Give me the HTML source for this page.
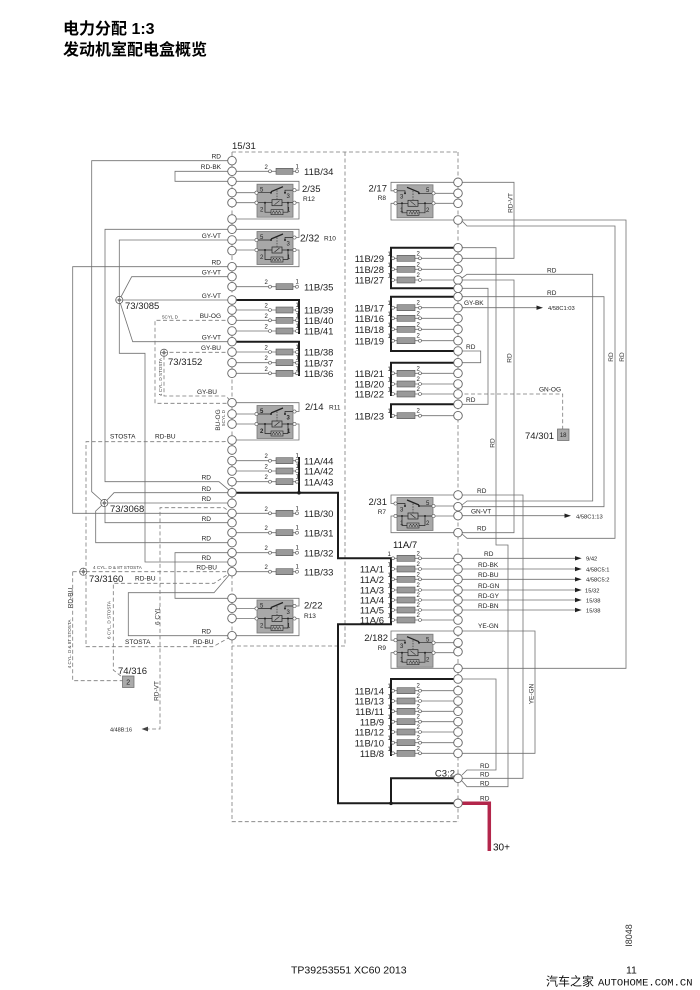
<!DOCTYPE html>
<html><head><meta charset="utf-8"><style>
html,body{margin:0;padding:0;background:#fff}
svg{display:block}
text{font-family:"Liberation Sans","Noto Sans CJK SC",sans-serif;fill:#222}
.t{stroke:#707070;stroke-width:.8;fill:none}
.d{stroke:#7a7a7a;stroke-width:.8;fill:none;stroke-dasharray:4 2.5}
.k{stroke:#1c1c1c;stroke-width:2;fill:none}
.n{fill:#fff;stroke:#666;stroke-width:.9}
.p{fill:#fff;stroke:#555;stroke-width:.6}
.f{fill:#9a9a9a;stroke:#555;stroke-width:.6}
.w{font-size:6.5px;fill:#333}
.l{font-size:9.5px;fill:#111}
.s{font-size:6px;fill:#222}
.x{font-size:4.6px;fill:#444}
</style></head><body>
<svg width="700" height="990" viewBox="0 0 700 990" xmlns="http://www.w3.org/2000/svg">
<defs>
<g id="lf"><path class="t" d="M236 0H268.5M271.5 0H276M293 0H295.5"/><circle cx="270" cy="0" r="1.5" class="p"/><rect x="276" y="-3" width="17" height="6" class="f"/><circle cx="297" cy="0" r="1.5" class="p"/></g>
<g id="rf"><path class="t" d="M394.5 0H397M415 0H418.5M421.5 0H454"/><circle cx="393" cy="0" r="1.5" class="p"/><rect x="397" y="-3" width="18" height="6" class="f"/><circle cx="420" cy="0" r="1.5" class="p"/></g>
<g id="ry">
<rect x="0" y="0" width="36" height="33" fill="#a8a8a8" stroke="#777" stroke-width=".8"/>
<path d="M0 8.5H14M28 8.5V6H36M0 18.5H15M25 18.5H36M8 18.5V28H14M26 28H31V18.5" stroke="#222" stroke-width=".7" fill="none"/>
<path d="M14 7.5L26 2.5" stroke="#222" stroke-width="1.3"/>
<path d="M20 6V15" stroke="#222" stroke-width=".6" stroke-dasharray="1.5 1.2"/>
<rect x="15" y="15.5" width="10" height="6" fill="none" stroke="#222" stroke-width=".7"/>
<path d="M17.5 20.5L22.5 16.5" stroke="#222" stroke-width=".6"/>
<rect x="14" y="25.5" width="12" height="5" fill="none" stroke="#222" stroke-width=".6"/>
<path d="M15 29.5L16.5 26.5L18 29.5L19.5 26.5L21 29.5L22.5 26.5L24 29.5" stroke="#222" stroke-width=".5" fill="none"/>
<circle cx="14" cy="8.5" r="1" fill="#222"/><circle cx="28" cy="8.5" r="1" fill="#222"/>
<circle cx="8" cy="18.5" r="1" fill="#222"/><circle cx="31" cy="18.5" r="1" fill="#222"/>
<circle cx="-.5" cy="8.5" r="1.6" class="p"/><circle cx="-.5" cy="18.5" r="1.6" class="p"/>
<circle cx="37.5" cy="6" r="1.6" class="p"/><circle cx="37.5" cy="18.5" r="1.6" class="p"/>
</g>
<g id="sp"><circle r="3.6" fill="#fff" stroke="#555" stroke-width=".7"/><circle r="1.2" fill="none" stroke="#555" stroke-width=".6"/><path d="M-3.6 0H3.6M0 -3.6V3.6" stroke="#555" stroke-width=".5"/></g>
</defs>

<!-- Title -->
<text x="63" y="34" style="font-size:16px;font-weight:bold;fill:#000">电力分配 1:3</text>
<text x="63" y="55" style="font-size:16px;font-weight:bold;fill:#000">发动机室配电盒概览</text>

<!-- dashed frame -->
<path class="d" d="M232 152H458M232 152V821.7H458M458 152V821.7M345 152V646H232"/>
<text x="232" y="149" style="font-size:9.5px">15/31</text>

<!-- LEFT thin lines -->
<path class="t" d="M232 160.7H91.7V491.7L104.3 503"/>
<path class="t" d="M232 171.3H175V181.3H232"/>
<path class="t" d="M232 181.3H299V190.2H296"/>
<path class="t" d="M236 192.7H255M236 202.7H255"/>
<path class="t" d="M296 202.7H299V219H232"/>
<path class="t" d="M232 229.3H105V481.7H219L232 492.7"/>
<path class="t" d="M232 229.3H299V237.5H296"/>
<path class="t" d="M236 240H255M236 250H255"/>
<path class="t" d="M232 240H119.3V353.3H145V562H232"/>
<path class="t" d="M296 250H299V266.7H232"/>
<path class="t" d="M232 266.7H72.7V513.3H232"/>
<path class="t" d="M232 276.7H131.7L119.3 300H232M119.3 300L132.7 341.7H232"/>
<path class="t" d="M232 402.7H299V411.5H296"/>
<path class="t" d="M236 414H255M236 424H255"/>
<path class="t" d="M296 424H299V440H232"/>
<path class="t" d="M104.3 503L114 492.7H232M104.3 503H232M105 503V522.7H232M104.3 503L95.7 511V542.7H232"/>
<path class="t" d="M232 552.7H175V598.3H232"/>
<path class="t" d="M232 571.7L214 592.7H128.3V635.7H232"/>
<path class="t" d="M232 598.3H299V606H296"/>
<path class="t" d="M236 608.5H255M236 618.5H255"/>
<path class="t" d="M296 618.5H299V635.7H232"/>

<!-- LEFT dashed -->
<path class="d" d="M232 320.3H155V403.3H232"/>
<path class="d" d="M232 352.3H164V396H226L232 402.7"/>
<path class="d" d="M232 440L224 441.7H86V646.7H213L232 636"/>
<path class="d" d="M232 513.3L224 507.7H160V729H147"/>
<path class="d" d="M72.7 571.7H232M72.7 571.7V680.7H122.7"/>
<path class="d" d="M232 571.7L214 583.3H113.3V670L122 677"/>
<path class="d" d="M458 394H562.7V429"/>
<polygon points="148,726.6 141.5,729 148,731.4" fill="#444"/>

<!-- RIGHT thin lines -->
<path class="t" d="M458 182.3H391V190.8H394"/>
<path class="t" d="M458 182.3H514V258.3H458"/>
<path class="t" d="M435 193.3H454M435 203.3H454"/>
<path class="t" d="M394 203.3H391V220H458"/>
<path class="t" d="M458 220H626V668.3H458"/>
<path class="t" d="M462 221L467 226H615V538.3H467L462 534"/>
<path class="t" d="M458 247.7H496V545H508V786.7H467L462 781"/>
<path class="t" d="M462 278L467 274.3H592.7V501H467L462 505"/>
<path class="t" d="M458 280H514V532.7H458"/>
<path class="t" d="M458 288.3H488V404.3H458"/>
<path class="t" d="M458 296.7H604V506.7H458"/>
<path class="t" d="M458 307.7H537"/>
<polygon points="536.5,305.5 543,307.7 536.5,309.9" fill="#222"/>
<path class="t" d="M458 351H480.7V362.7H458"/>
<path class="t" d="M458 495H391V503.5H394"/>
<path class="t" d="M458 495H523V778.3H458"/>
<path class="t" d="M435 506H454M435 516H454"/>
<path class="t" d="M458 515.7H565"/>
<polygon points="564.5,513.5 571,515.7 564.5,517.9" fill="#222"/>
<path class="t" d="M394 516H391V532.7H458"/>
<path class="t" d="M462 558.3H576M462 569H576M462 579.3H576M462 590H576M462 600H576M462 610H576"/>
<polygon points="575,556.1 581.7,558.3 575,560.5" fill="#222"/>
<polygon points="575,566.8 581.7,569 575,571.2" fill="#222"/>
<polygon points="575,577.1 581.7,579.3 575,581.5" fill="#222"/>
<polygon points="575,587.8 581.7,590 575,592.2" fill="#222"/>
<polygon points="575,597.8 581.7,600 575,602.2" fill="#222"/>
<polygon points="575,607.8 581.7,610 575,612.2" fill="#222"/>
<path class="t" d="M458 631H391V640.2H394"/>
<path class="t" d="M458 631H535V753.3H458"/>
<path class="t" d="M435 642.7H454M435 652.7H454"/>
<path class="t" d="M394 652.7H391V668.3H458"/>
<path class="t" d="M458 679H496V770H467L462 775"/>

<!-- THICK -->
<path class="k" d="M232 300H299V334"/>
<path class="k" d="M232 341.7H299V376"/>
<path class="k" d="M299 457V492.7"/>
<path class="k" d="M232 492.7H338V558.3H391V624.3H338V803.3H454"/>
<path class="k" d="M391 803.3V778.3H454"/>
<path class="k" d="M454 247.7H391V288.3H454"/>
<path class="k" d="M454 296.7H391V351H454"/>
<path class="k" d="M454 362.7H391V396"/>
<path class="k" d="M454 404.3H391V418"/>
<path class="k" d="M454 679H391V756"/>
<circle cx="299" cy="492.7" r="1.8" fill="#1c1c1c"/>
<circle cx="391" cy="803.3" r="1.8" fill="#1c1c1c"/>
<path d="M462 803.3H489.3V851" stroke="#b3264b" stroke-width="3.5" fill="none"/>

<!-- LEFT fuses -->
<use href="#lf" y="171.3"/><use href="#lf" y="286.7"/><use href="#lf" y="310"/><use href="#lf" y="320.3"/><use href="#lf" y="331"/><use href="#lf" y="352"/><use href="#lf" y="362.7"/><use href="#lf" y="373.3"/><use href="#lf" y="460.7"/><use href="#lf" y="471"/><use href="#lf" y="481.7"/><use href="#lf" y="513.3"/><use href="#lf" y="532.7"/><use href="#lf" y="552.7"/><use href="#lf" y="571.7"/>
<!-- RIGHT fuses -->
<use href="#rf" y="258.3"/><use href="#rf" y="269.3"/><use href="#rf" y="280"/><use href="#rf" y="307.7"/><use href="#rf" y="318.3"/><use href="#rf" y="329.3"/><use href="#rf" y="340.7"/><use href="#rf" y="373.3"/><use href="#rf" y="384"/><use href="#rf" y="394"/><use href="#rf" y="415.7"/><use href="#rf" y="558.3"/><use href="#rf" y="569"/><use href="#rf" y="579.3"/><use href="#rf" y="590"/><use href="#rf" y="600"/><use href="#rf" y="610"/><use href="#rf" y="620"/><use href="#rf" y="690.7"/><use href="#rf" y="701"/><use href="#rf" y="711.3"/><use href="#rf" y="721.7"/><use href="#rf" y="732"/><use href="#rf" y="742.7"/><use href="#rf" y="753.3"/>

<!-- Relays -->
<use href="#ry" transform="translate(257,184.2)"/>
<use href="#ry" transform="translate(257,231.5)"/>
<use href="#ry" transform="translate(257,405.5)"/>
<use href="#ry" transform="translate(257,600)"/>
<use href="#ry" transform="translate(433,184.8) scale(-1,1)"/>
<use href="#ry" transform="translate(433,497.5) scale(-1,1)"/>
<use href="#ry" transform="translate(433,634.2) scale(-1,1)"/>

<!-- relay pin numbers -->
<g class="s">
<text x="260" y="191.5">5</text><text x="286.5" y="198">3</text><text x="260" y="211.5">2</text><text x="287" y="211.5">1</text>
<text x="260" y="238.8">5</text><text x="286.5" y="245.3">3</text><text x="260" y="258.8">2</text><text x="287" y="258.8">1</text>
<text x="260" y="412.8" style="font-weight:bold">5</text><text x="286.5" y="419.3" style="font-weight:bold">3</text><text x="260" y="432.8" style="font-weight:bold">2</text><text x="287" y="432.8" style="font-weight:bold">1</text>
<text x="260" y="607.3">5</text><text x="286.5" y="613.8">3</text><text x="260" y="627.3">2</text><text x="287" y="627.3">1</text>
<text x="400" y="198.6">3</text><text x="426" y="192.1">5</text><text x="400" y="212.1">1</text><text x="426" y="212.1">2</text>
<text x="400" y="511.3">3</text><text x="426" y="504.8">5</text><text x="400" y="524.8">1</text><text x="426" y="524.8">2</text>
<text x="400" y="648">3</text><text x="426" y="641.5">5</text><text x="400" y="661.5">1</text><text x="426" y="661.5">2</text>
</g>

<!-- fuse pin numbers left -->
<g class="s">
<text x="264.5" y="168.8">2</text><text x="295.5" y="168.3">1</text>
<text x="264.5" y="284.2">2</text><text x="295.5" y="283.7">1</text>
<text x="264.5" y="307.5">2</text><text x="295.5" y="307">1</text>
<text x="264.5" y="317.8">2</text><text x="295.5" y="317.3">1</text>
<text x="264.5" y="328.5">2</text><text x="295.5" y="328">1</text>
<text x="264.5" y="349.5">2</text><text x="295.5" y="349">1</text>
<text x="264.5" y="360.2">2</text><text x="295.5" y="359.7">1</text>
<text x="264.5" y="370.8">2</text><text x="295.5" y="370.3">1</text>
<text x="264.5" y="458.2">2</text><text x="295.5" y="457.7">1</text>
<text x="264.5" y="468.5">2</text><text x="295.5" y="468">1</text>
<text x="264.5" y="479.2">2</text><text x="295.5" y="478.7">1</text>
<text x="264.5" y="510.8">2</text><text x="295.5" y="510.3">1</text>
<text x="264.5" y="530.2">2</text><text x="295.5" y="529.7">1</text>
<text x="264.5" y="550.2">2</text><text x="295.5" y="549.7">1</text>
<text x="264.5" y="569.2">2</text><text x="295.5" y="568.7">1</text>
</g>
<!-- fuse pin numbers right -->
<g class="s">
<text x="387.5" y="255.8">1</text><text x="416.5" y="255.3">2</text>
<text x="387.5" y="266.8">1</text><text x="416.5" y="266.3">2</text>
<text x="387.5" y="277.5">1</text><text x="416.5" y="277">2</text>
<text x="387.5" y="305.2">1</text><text x="416.5" y="304.7">2</text>
<text x="387.5" y="315.8">1</text><text x="416.5" y="315.3">2</text>
<text x="387.5" y="326.8">1</text><text x="416.5" y="326.3">2</text>
<text x="387.5" y="338.2">1</text><text x="416.5" y="337.7">2</text>
<text x="387.5" y="370.8">1</text><text x="416.5" y="370.3">2</text>
<text x="387.5" y="381.5">1</text><text x="416.5" y="381">2</text>
<text x="387.5" y="391.5">1</text><text x="416.5" y="391">2</text>
<text x="387.5" y="413.2">1</text><text x="416.5" y="412.7">2</text>
<text x="387.5" y="555.8">1</text><text x="416.5" y="555.3">2</text>
<text x="387.5" y="566.5">1</text><text x="416.5" y="566">2</text>
<text x="387.5" y="576.8">1</text><text x="416.5" y="576.3">2</text>
<text x="387.5" y="587.5">1</text><text x="416.5" y="587">2</text>
<text x="387.5" y="597.5">1</text><text x="416.5" y="597">2</text>
<text x="387.5" y="607.5">1</text><text x="416.5" y="607">2</text>
<text x="387.5" y="617.5">1</text><text x="416.5" y="617">2</text>
<text x="387.5" y="688.2">1</text><text x="416.5" y="687.7">2</text>
<text x="387.5" y="698.5">1</text><text x="416.5" y="698">2</text>
<text x="387.5" y="708.8">1</text><text x="416.5" y="708.3">2</text>
<text x="387.5" y="719.2">1</text><text x="416.5" y="718.7">2</text>
<text x="387.5" y="729.5">1</text><text x="416.5" y="729">2</text>
<text x="387.5" y="740.2">1</text><text x="416.5" y="739.7">2</text>
<text x="387.5" y="750.8">1</text><text x="416.5" y="750.3">2</text>
</g>

<!-- nodes left -->
<g class="n">
<circle cx="232" cy="160.7" r="4.3"/><circle cx="232" cy="171.3" r="4.3"/><circle cx="232" cy="181.3" r="4.3"/><circle cx="232" cy="192.7" r="4.3"/><circle cx="232" cy="202.7" r="4.3"/><circle cx="232" cy="219" r="4.3"/><circle cx="232" cy="229.3" r="4.3"/><circle cx="232" cy="240" r="4.3"/><circle cx="232" cy="250.7" r="4.3"/><circle cx="232" cy="266.7" r="4.3"/><circle cx="232" cy="276.7" r="4.3"/><circle cx="232" cy="286.7" r="4.3"/><circle cx="232" cy="300" r="4.3"/><circle cx="232" cy="310" r="4.3"/><circle cx="232" cy="320.3" r="4.3"/><circle cx="232" cy="331" r="4.3"/><circle cx="232" cy="341.7" r="4.3"/><circle cx="232" cy="352" r="4.3"/><circle cx="232" cy="362.7" r="4.3"/><circle cx="232" cy="373.3" r="4.3"/><circle cx="232" cy="402.7" r="4.3"/><circle cx="232" cy="414" r="4.3"/><circle cx="232" cy="424" r="4.3"/><circle cx="232" cy="440" r="4.3"/><circle cx="232" cy="450" r="4.3"/><circle cx="232" cy="460.7" r="4.3"/><circle cx="232" cy="471" r="4.3"/><circle cx="232" cy="481.7" r="4.3"/><circle cx="232" cy="492.7" r="4.3"/><circle cx="232" cy="503.3" r="4.3"/><circle cx="232" cy="513.3" r="4.3"/><circle cx="232" cy="522.7" r="4.3"/><circle cx="232" cy="532.7" r="4.3"/><circle cx="232" cy="542.7" r="4.3"/><circle cx="232" cy="552.7" r="4.3"/><circle cx="232" cy="562" r="4.3"/><circle cx="232" cy="571.7" r="4.3"/><circle cx="232" cy="598.3" r="4.3"/><circle cx="232" cy="608.3" r="4.3"/><circle cx="232" cy="618.3" r="4.3"/><circle cx="232" cy="635.7" r="4.3"/>
</g>
<!-- nodes right -->
<g class="n">
<circle cx="458" cy="182.3" r="4.3"/><circle cx="458" cy="193.3" r="4.3"/><circle cx="458" cy="203.3" r="4.3"/><circle cx="458" cy="220" r="4.3"/><circle cx="458" cy="247.7" r="4.3"/><circle cx="458" cy="258.3" r="4.3"/><circle cx="458" cy="269.3" r="4.3"/><circle cx="458" cy="280" r="4.3"/><circle cx="458" cy="288.3" r="4.3"/><circle cx="458" cy="296.7" r="4.3"/><circle cx="458" cy="307.7" r="4.3"/><circle cx="458" cy="318.3" r="4.3"/><circle cx="458" cy="329.3" r="4.3"/><circle cx="458" cy="340.7" r="4.3"/><circle cx="458" cy="351" r="4.3"/><circle cx="458" cy="362.7" r="4.3"/><circle cx="458" cy="373.3" r="4.3"/><circle cx="458" cy="384" r="4.3"/><circle cx="458" cy="394" r="4.3"/><circle cx="458" cy="404.3" r="4.3"/><circle cx="458" cy="415.7" r="4.3"/><circle cx="458" cy="495" r="4.3"/><circle cx="458" cy="506.7" r="4.3"/><circle cx="458" cy="515.7" r="4.3"/><circle cx="458" cy="532.7" r="4.3"/><circle cx="458" cy="558.3" r="4.3"/><circle cx="458" cy="569" r="4.3"/><circle cx="458" cy="579.3" r="4.3"/><circle cx="458" cy="590" r="4.3"/><circle cx="458" cy="600" r="4.3"/><circle cx="458" cy="610" r="4.3"/><circle cx="458" cy="620" r="4.3"/><circle cx="458" cy="631" r="4.3"/><circle cx="458" cy="642.7" r="4.3"/><circle cx="458" cy="651.7" r="4.3"/><circle cx="458" cy="668.3" r="4.3"/><circle cx="458" cy="679" r="4.3"/><circle cx="458" cy="690.7" r="4.3"/><circle cx="458" cy="701" r="4.3"/><circle cx="458" cy="711.3" r="4.3"/><circle cx="458" cy="721.7" r="4.3"/><circle cx="458" cy="732" r="4.3"/><circle cx="458" cy="742.7" r="4.3"/><circle cx="458" cy="753.3" r="4.3"/><circle cx="458" cy="778.3" r="4.3"/><circle cx="458" cy="803.3" r="4.3"/>
</g>

<!-- splices & boxes -->
<use href="#sp" x="119.3" y="300"/>
<use href="#sp" x="164" y="352.7"/>
<use href="#sp" x="104.3" y="503"/>
<use href="#sp" x="83.3" y="571.7"/>
<rect x="557.5" y="429" width="11.5" height="11.5" fill="#aaa" stroke="#666" stroke-width=".7"/>
<text x="563.2" y="437.2" text-anchor="middle" style="font-size:6px">18</text>
<rect x="122.5" y="676" width="11.5" height="11.5" fill="#aaa" stroke="#666" stroke-width=".7"/>
<text x="128.2" y="684.5" text-anchor="middle" style="font-size:7px">2</text>

<!-- component labels -->
<g class="l">
<text x="304" y="174.9">11B/34</text>
<text x="304" y="290.3">11B/35</text>
<text x="304" y="313.6">11B/39</text>
<text x="304" y="323.9">11B/40</text>
<text x="304" y="334.6">11B/41</text>
<text x="304" y="355.6">11B/38</text>
<text x="304" y="366.3">11B/37</text>
<text x="304" y="376.9">11B/36</text>
<text x="304" y="464.3">11A/44</text>
<text x="304" y="474.6">11A/42</text>
<text x="304" y="485.3">11A/43</text>
<text x="304" y="516.9">11B/30</text>
<text x="304" y="536.3">11B/31</text>
<text x="304" y="556.3">11B/32</text>
<text x="304" y="575.3">11B/33</text>
<text x="302" y="192">2/35</text>
<text x="300" y="241.5" style="font-size:10px">2/32</text>
<text x="305" y="410">2/14</text>
<text x="304" y="608.5">2/22</text>
</g>
<g class="l" text-anchor="end">
<text x="384" y="261.9">11B/29</text>
<text x="384" y="272.9">11B/28</text>
<text x="384" y="283.6">11B/27</text>
<text x="384" y="311.3">11B/17</text>
<text x="384" y="321.9">11B/16</text>
<text x="384" y="332.9">11B/18</text>
<text x="384" y="344.3">11B/19</text>
<text x="384" y="376.9">11B/21</text>
<text x="384" y="387.6">11B/20</text>
<text x="384" y="397.6">11B/22</text>
<text x="384" y="419.3">11B/23</text>
<text x="384" y="572.6">11A/1</text>
<text x="384" y="582.9">11A/2</text>
<text x="384" y="593.6">11A/3</text>
<text x="384" y="603.6">11A/4</text>
<text x="384" y="613.6">11A/5</text>
<text x="384" y="623.6">11A/6</text>
<text x="384" y="694.3">11B/14</text>
<text x="384" y="704.6">11B/13</text>
<text x="384" y="714.9">11B/11</text>
<text x="384" y="725.3">11B/9</text>
<text x="384" y="735.6">11B/12</text>
<text x="384" y="746.3">11B/10</text>
<text x="384" y="756.9">11B/8</text>
<text x="387" y="191.5">2/17</text>
<text x="387" y="505">2/31</text>
<text x="388" y="641">2/182</text>
<text x="455" y="776.5">C3:2</text>
</g>
<text x="393" y="548" class="l">11A/7</text>
<g class="w">
<text x="303" y="201">R12</text>
<text x="324" y="240.5">R10</text>
<text x="329" y="409.5">R11</text>
<text x="304" y="618">R13</text>
</g>
<g class="w" text-anchor="end">
<text x="386" y="200">R8</text>
<text x="386" y="514">R7</text>
<text x="386" y="650">R9</text>
</g>

<!-- splice/connector labels -->
<g class="l">
<text x="125" y="309">73/3085</text>
<text x="168" y="365">73/3152</text>
<text x="110" y="512">73/3068</text>
<text x="89" y="582">73/3160</text>
<text x="118" y="674">74/316</text>
<text x="525" y="439">74/301</text>
</g>

<!-- left wire labels -->
<g class="w" text-anchor="end">
<text x="221" y="158.5">RD</text>
<text x="221" y="169">RD-BK</text>
<text x="221" y="238">GY-VT</text>
<text x="221" y="264.5">RD</text>
<text x="221" y="274.5">GY-VT</text>
<text x="221" y="298">GY-VT</text>
<text x="221" y="318">BU-OG</text>
<text x="221" y="339.5">GY-VT</text>
<text x="221" y="350">GY-BU</text>
<text x="217" y="394">GY-BU</text>
<text x="211" y="479.6">RD</text>
<text x="211" y="491">RD</text>
<text x="211" y="501">RD</text>
<text x="211" y="521">RD</text>
<text x="211" y="540.5">RD</text>
<text x="211" y="560">RD</text>
<text x="217" y="569.5">RD-BU</text>
<text x="211" y="633.5">RD</text>
</g>
<g class="w">
<text x="110" y="438.5">STOSTA</text>
<text x="155" y="438.5">RD-BU</text>
<text x="135" y="580.5">RD-BU</text>
<text x="125" y="644">STOSTA</text>
<text x="193" y="644">RD-BU</text>
<text x="110" y="731.5" style="font-size:5.5px">4/48B:16</text>
</g>
<text x="162" y="318.5" class="x">5CYL D</text>
<text x="93" y="569" class="x">4 CYL. D &amp; 8T STOSTA</text>
<!-- left vertical labels -->
<text class="w" text-anchor="middle" transform="translate(72.3,598) rotate(-90)">RD-BU</text>
<text class="x" text-anchor="middle" transform="translate(71,644) rotate(-90)">4 CYL. D &amp; 8T STOSTA</text>
<text class="x" text-anchor="middle" transform="translate(110.5,620) rotate(-90)">6 CYL. D STOSTA</text>
<text class="w" text-anchor="middle" transform="translate(159.3,616) rotate(-90)">6 CYL</text>
<text class="w" text-anchor="middle" transform="translate(158.5,691) rotate(-90)">RD-VT</text>
<text class="x" text-anchor="middle" transform="translate(162,377) rotate(-90)">4 CYL. D STOSTA</text>
<text class="w" text-anchor="middle" transform="translate(219.8,420) rotate(-90)">BU-OG</text>
<text class="x" text-anchor="middle" transform="translate(225,418) rotate(-90)">5CYL D</text>

<!-- right wire labels -->
<g class="w">
<text x="547" y="272.5">RD</text>
<text x="547" y="295">RD</text>
<text x="464" y="305">GY-BK</text>
<text x="548" y="310" style="font-size:5.8px">4/58C1:03</text>
<text x="466" y="349">RD</text>
<text x="466" y="402">RD</text>
<text x="539" y="391.5">GN-OG</text>
<text x="477" y="493">RD</text>
<text x="471" y="513.5">GN-VT</text>
<text x="576" y="518.3" style="font-size:5.8px">4/58C1:13</text>
<text x="477" y="530.5">RD</text>
<text x="484" y="556">RD</text>
<text x="478" y="567">RD-BK</text>
<text x="478" y="577">RD-BU</text>
<text x="478" y="587.8">RD-GN</text>
<text x="478" y="597.8">RD-GY</text>
<text x="478" y="607.8">RD-BN</text>
<text x="478" y="628">YE-GN</text>
<text x="480" y="768">RD</text>
<text x="480" y="776.5">RD</text>
<text x="480" y="785.5">RD</text>
<text x="480" y="800.5">RD</text>
</g>
<g class="w" style="font-size:5.8px">
<text x="586" y="560.6">9/42</text>
<text x="586" y="571.3">4/58C5:1</text>
<text x="586" y="581.6">4/58C5:2</text>
<text x="585" y="592.3">15/32</text>
<text x="586" y="602.3">15/38</text>
<text x="586" y="612.3">15/38</text>
</g>
<text class="w" text-anchor="middle" transform="translate(512.3,203) rotate(-90)">RD-VT</text>
<text class="w" text-anchor="middle" transform="translate(511.3,358) rotate(-90)">RD</text>
<text class="w" text-anchor="middle" transform="translate(613,357) rotate(-90)">RD</text>
<text class="w" text-anchor="middle" transform="translate(624,357) rotate(-90)">RD</text>
<text class="w" text-anchor="middle" transform="translate(494.3,443) rotate(-90)">RD</text>
<text class="w" text-anchor="middle" transform="translate(533.3,694) rotate(-90)">YE-GN</text>
<text x="493" y="850.5" style="font-size:10px;fill:#111">30+</text>

<!-- footer -->
<text x="291" y="973.5" style="font-size:10.5px;fill:#111">TP39253551 XC60 2013</text>
<text x="626" y="973.5" style="font-size:10.5px;fill:#111">11</text>
<text text-anchor="middle" transform="translate(632,935.5) rotate(-90)" style="font-size:9px;fill:#333">I8048</text>
<text x="546" y="985.5" style="font-size:12px;fill:#111;font-family:'Noto Sans CJK SC','WenQuanYi Zen Hei',sans-serif">汽车之家</text>
<text x="598" y="985.5" style="font-size:10.5px;fill:#111;font-family:'Liberation Mono',monospace">AUTOHOME.COM.CN</text>
</svg>
</body></html>
